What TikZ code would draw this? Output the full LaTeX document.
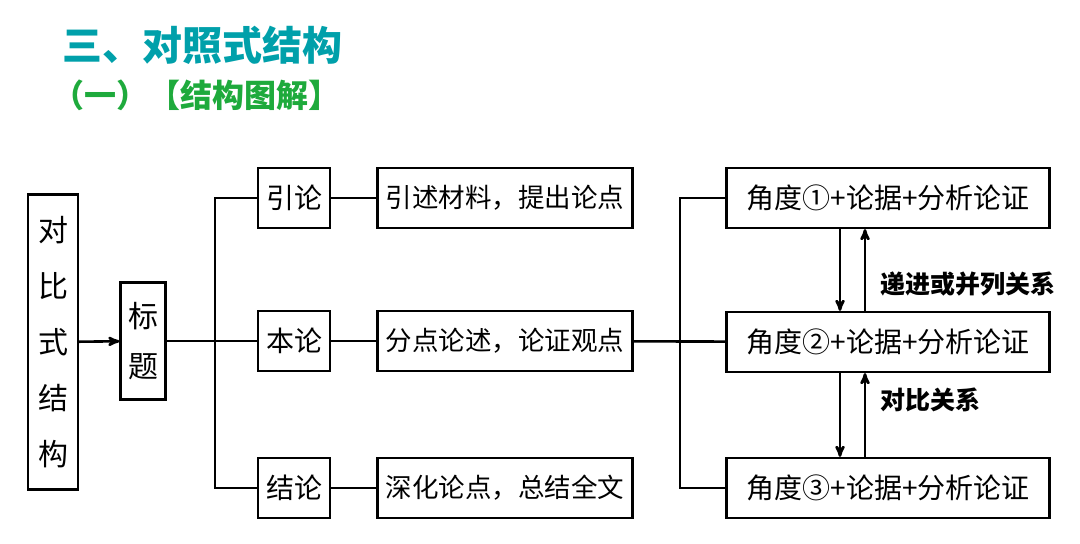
\documentclass[tikz,border=0pt]{standalone}
\usepackage{fontspec}
\setmainfont{Noto Sans CJK SC}
\usepackage{tikz}
\usetikzlibrary{arrows,positioning}
\definecolor{titleteal}{RGB}{0,160,170}
\definecolor{subgreen}{RGB}{30,170,60}

\begin{document}
\begin{tikzpicture}[x=1pt,y=-1pt,>=stealth',line width=2.6pt,
  box/.style={draw,line width=2.2pt,minimum height=60pt,inner sep=2pt,font=\fontsize{28}{32}\selectfont},
  vbox/.style={draw,line width=2.2pt,align=center,inner sep=4pt}]
\useasboundingbox (0,0) rectangle (1080,544);

\node[anchor=west,text=titleteal,font=\fontsize{40}{44}\selectfont\bfseries] (T) at (58,45) {三、对照式结构};
\node[anchor=west,text=subgreen,font=\fontsize{32}{36}\selectfont\bfseries] (S) at (48,95) {（一）【结构图解】};

\node[vbox,minimum width=50pt,minimum height=295pt,font=\fontsize{30}{56}\selectfont] (Dui) at (53,342) {对\\比\\式\\结\\构};
\node[vbox,minimum width=45pt,minimum height=117pt,font=\fontsize{30}{50}\selectfont] (Biao) at (143,341) {标\\题};

\node[box,minimum width=72pt] (Yin)  at (294,198) {引论};
\node[box,minimum width=72pt] (Ben)  at (294,341) {本论};
\node[box,minimum width=72pt] (Jie)  at (294,488) {结论};

\node[box,minimum width=255pt,inner sep=0pt,font=\fontsize{26.5}{30}\selectfont] (YinT) at (505,198) {引述材料，提出论点};
\node[box,minimum width=255pt,inner sep=0pt,font=\fontsize{26.5}{30}\selectfont] (BenT) at (505,341) {分点论述，论证观点};
\node[box,minimum width=255pt,inner sep=0pt,font=\fontsize{26.5}{30}\selectfont] (JieT) at (505,488) {深化论点，总结全文};

\node[box,minimum width=323pt] (A1) at (888,198) {角度①+论据+分析论证};
\node[box,minimum width=323pt] (A2) at (888,342) {角度②+论据+分析论证};
\node[box,minimum width=323pt] (A3) at (888,488) {角度③+论据+分析论证};

\coordinate (L) at (215,341);
\coordinate (R) at (680,341);

\draw[->] (Dui) -- (Biao);
\draw (Biao) -- (L);
\draw (Yin.west) -| (L) |- (Jie.west);
\draw (L) -- (Ben);
\draw (Yin) -- (YinT);
\draw (Ben) -- (BenT);
\draw (Jie) -- (JieT);
\draw (A1.west) -| (R) |- (A3.west);
\draw (BenT) -- (A2);

\draw[->] ([xshift=-48pt]A1.south) -- ([xshift=-48pt]A2.north);
\draw[->] ([xshift=-23pt]A2.north) -- ([xshift=-23pt]A1.south);
\draw[->] ([xshift=-48pt]A2.south) -- ([xshift=-48pt]A3.north);
\draw[->] ([xshift=-23pt]A3.north) -- ([xshift=-23pt]A2.south);

\node[anchor=west,font=\fontsize{25}{28}\selectfont\bfseries] (R1) at (876,284) {递进或并列关系};
\node[anchor=west,font=\fontsize{25}{28}\selectfont\bfseries] (R2) at (876,400) {对比关系};
\end{tikzpicture}
\end{document}
